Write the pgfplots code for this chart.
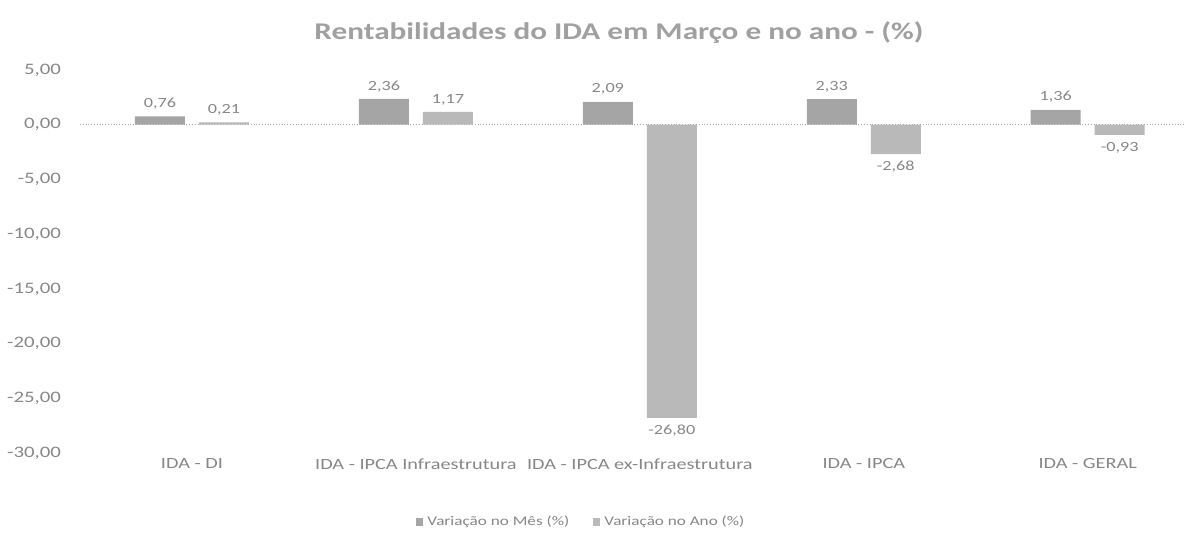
\documentclass[border=0pt]{standalone}
\usepackage{fontspec}
\setmainfont{Carlito}[FakeStretch=1.3]
\usepackage{pgfplots}
\pgfplotsset{compat=1.18}
\definecolor{txt}{RGB}{135,135,135}
\definecolor{ttl}{RGB}{160,160,160}
\definecolor{mes}{RGB}{165,165,165}
\definecolor{ano}{RGB}{185,185,185}
\begin{document}
\begin{tikzpicture}[x=0.5pt,y=0.5pt]
\useasboundingbox (0,0) rectangle (1184,536);
\pgfkeys{/pgf/number format/.cd,use comma,fixed,fixed zerofill,precision=2,assume math mode=true}
\begin{axis}[
  at={(40pt,41.5pt)}, anchor=south west,
  scale only axis, width=552pt, height=191.5pt,
  ybar=7pt, bar width=25pt,
  xmin=-0.5, xmax=4.43, ymin=-30, ymax=5,
  ytick={-30,-25,...,5},
  xtick={0,...,4},
  xticklabels={IDA - DI, IDA - IPCA Infraestrutura, IDA - IPCA ex-Infraestrutura, IDA - IPCA, IDA - GERAL},
  axis line style={draw=none}, major tick style={draw=none},
  ticklabel style={font=\fontsize{8}{9}\selectfont, text=txt},
  yticklabel style={xshift=-6pt},
  xticklabel style={yshift=5pt, font=\fontsize{7.8}{9}\selectfont},
  extra y ticks={0}, extra y tick labels={},
  extra y tick style={grid=major, major grid style={densely dotted, gray!70, line width=0.5pt}},
  nodes near coords,
  nodes near coords style={font=\fontsize{7}{8}\selectfont, text=txt},
  clip=false,
  legend style={at={(0.455,-0.18)}, anchor=center, draw=none, legend columns=2,
    font=\fontsize{6.6}{8}\selectfont, text=txt,
    /tikz/every even column/.append style={column sep=10pt}},
  legend image code/.code={\fill[#1,draw=none] (0pt,-1.8pt) rectangle (3.6pt,1.8pt);},
]
\addplot[fill=mes, draw=none] coordinates {(0,0.76) (1,2.36) (2,2.09) (3,2.33) (4,1.36)};
\addplot[fill=ano, draw=none] coordinates {(0,0.21) (1,1.17) (2,-26.80) (3,-2.68) (4,-0.93)};
\legend{Variação no Mês (\%), Variação no Ano (\%)}
\end{axis}
\node[font=\bfseries\fontsize{12}{14}\selectfont, text=ttl] at (619,503) {Rentabilidades do IDA em Março e no ano - (\%)};
\end{tikzpicture}
\end{document}
